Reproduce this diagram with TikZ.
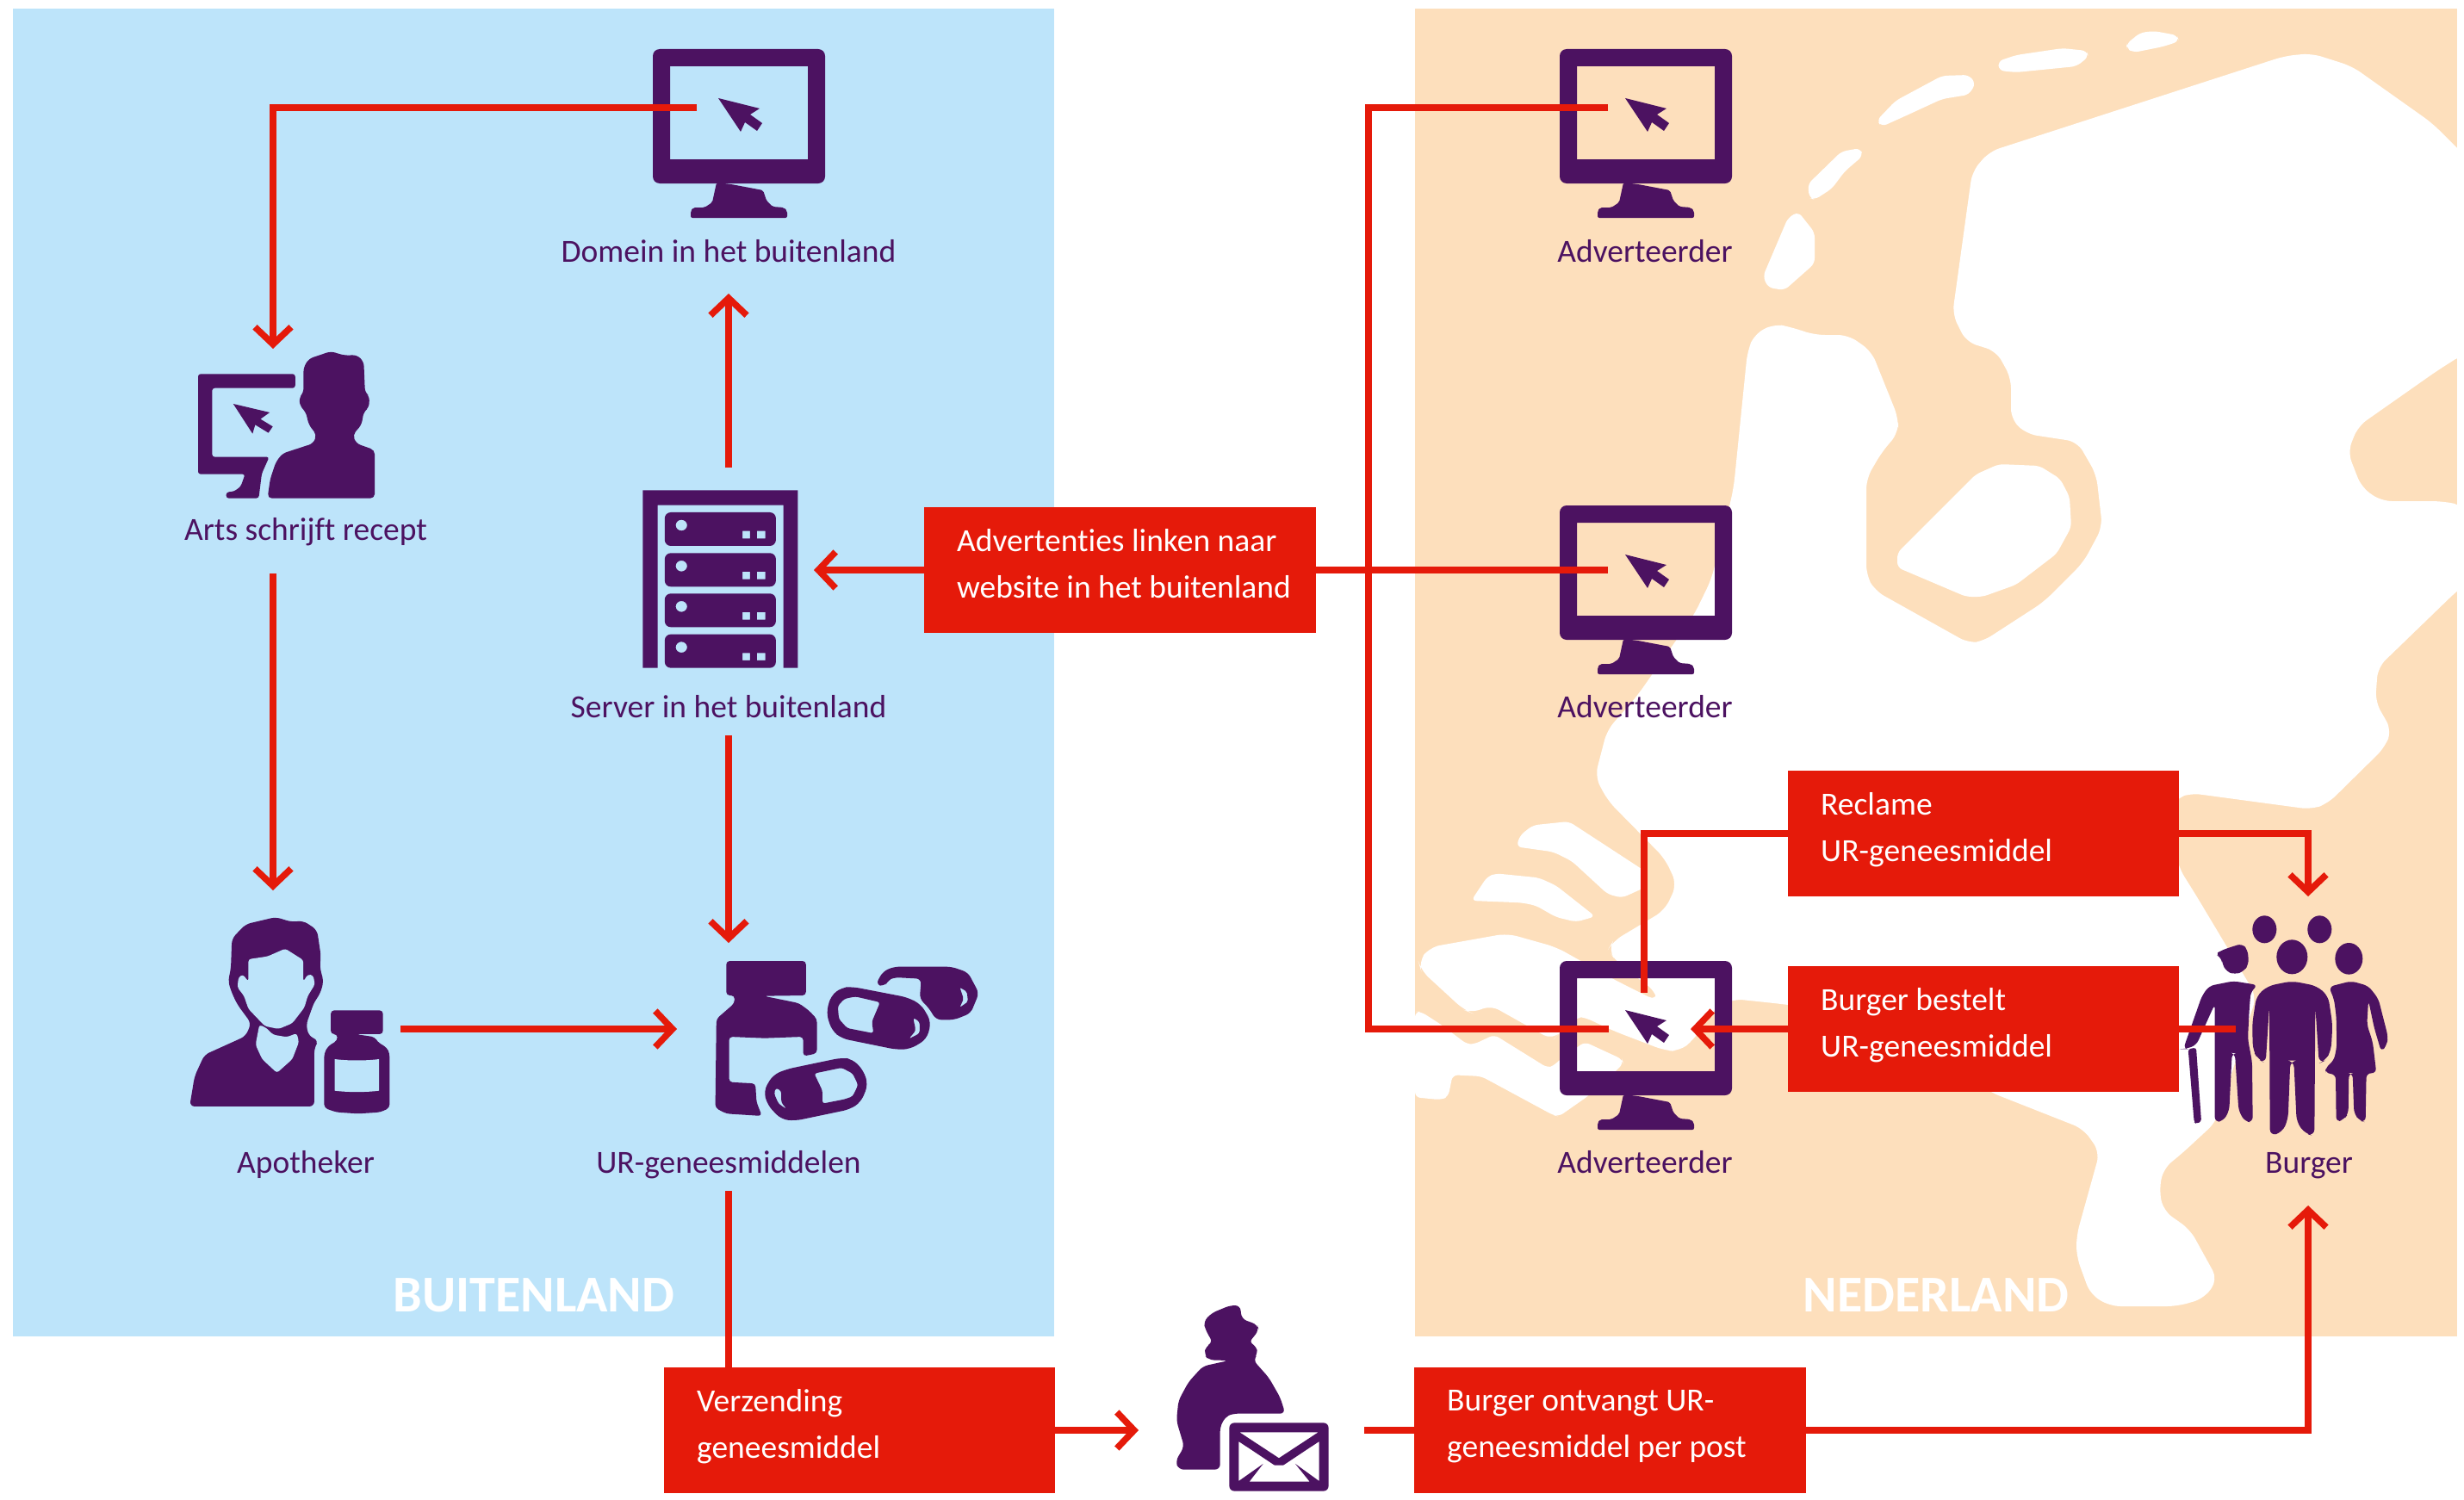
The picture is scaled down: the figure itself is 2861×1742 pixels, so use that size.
\documentclass[tikz,border=0pt]{standalone}
\usepackage{fontspec}
\setmainfont[Ligatures=NoCommon]{Carlito}
\usetikzlibrary{arrows.meta}
\definecolor{bgblue}{RGB}{189,228,250}
\definecolor{bgpeach}{RGB}{253,223,188}
\definecolor{iconpurple}{RGB}{76,18,97}
\definecolor{boxred}{RGB}{229,26,10}
\newcommand{\boxlines}[2]{\mbox{#1}\\\mbox{#2\rule[-16pt]{0pt}{16pt}}}
\tikzset{
  conn/.style={draw=boxred,line width=7.5pt,miter limit=10},
  arr/.style={conn,-{Straight Barb[length=20pt,width=42pt,line width=7.5pt]}},
  redbox/.style={fill=boxred,text=white,anchor=north west,minimum height=146pt,inner xsep=38pt,inner ysep=0pt,align=flush left,font=\fontsize{37.5}{54}\selectfont},
  lab/.style={text=iconpurple,anchor=base,inner sep=0pt,font=\fontsize{37.5}{46}\selectfont},
  region/.style={text=white,anchor=base,inner sep=0pt,font=\fontsize{60}{64}\selectfont\bfseries},
  ic/.style={fill=iconpurple,even odd rule},
  isl/.style={fill=white,rounded corners=6pt},
}
\newcommand{\monicon}[2]{%
  \begin{scope}[shift={(#1,#2)}]
    \fill[ic] [rounded corners=8pt] (0,0) rectangle (200,156) [sharp corners] (20,20) rectangle (180,128);
    \fill[ic,rounded corners=2pt] (74,155) -- (91,157) -- (128,164) -- (132,176) -- (139,183) -- (152,184) -- (156,188) -- (156,196) -- (44,196) -- (44,188) -- (47,184) -- (60,184) -- (69,178) -- cycle;
    \fill[ic] (76,57) -- (124,69) -- (113,76) -- (127,86) -- (121,95) -- (107,85) -- (102,96) -- cycle;
  \end{scope}}
\begin{document}
\begin{tikzpicture}[x=1pt,y=-1pt]
\useasboundingbox (0,0) rectangle (2861,1742);
\fill[white] (0,0) rectangle (2861,1742);
\fill[bgblue] (15,10) rectangle (1224,1552);
\fill[bgpeach] (1643,10) rectangle (2853,1552);
% map
\fill[white,rounded corners=12pt] (2861,180) -- (2824,143) -- (2731,77) -- (2684,62) -- (2653,65) -- (2310,176) -- (2290,199) -- (2267,365) -- (2283,397) -- (2318,408) -- (2335,439) -- (2335,487) -- (2353,504) -- (2412,513) -- (2434,551) -- (2441,612) -- (2419,653) -- (2373,699) -- (2302,745) -- (2286,747) -- (2177,686) -- (2167,668) -- (2167,556) -- (2185,525) -- (2204,503) -- (2204,485) -- (2173,408) -- (2146,389) -- (2107,389) -- (2080,380) -- (2060,376) -- (2037,388) -- (2029,408) -- (2013,566) -- (2006,597) -- (1987,673) -- (1967,714) -- (1901,808) -- (1866,848) -- (1852,902) -- (1867,930) -- (1933,997) -- (1947,1027) -- (1933,1057) -- (1873,1093) -- (1867,1103) -- (1877,1117) -- (1923,1152) -- (1925,1163) -- (1873,1137) -- (1807,1100) -- (1750,1084) -- (1660,1100) -- (1647,1117) -- (1650,1127) -- (1700,1173) -- (1710,1177) -- (1730,1167) -- (1803,1208) -- (1812,1198) -- (1832,1180) -- (1837,1180) -- (1873,1197) -- (1933,1220) -- (1950,1221) -- (1967,1207) -- (1990,1172) -- (2012,1160) -- (2060,1165) -- (2200,1182) -- (2310,1268) -- (2419,1311) -- (2438,1338) -- (2411,1435) -- (2411,1459) -- (2427,1503) -- (2450,1517) -- (2528,1517) -- (2559,1508) -- (2575,1486) -- (2543,1428) -- (2512,1406) -- (2507,1382) -- (2512,1357) -- (2533,1340) -- (2573,1303) -- (2620,1157) -- (2550,1040) -- (2530,1008) -- (2515,940) -- (2530,926) -- (2543,921) -- (2684,940) -- (2703,933) -- (2769,868) -- (2777,848) -- (2758,815) -- (2761,775) -- (2853,686) -- (2861,680) -- (2861,587) -- (2835,582) -- (2765,582) -- (2742,566) -- (2726,525) -- (2738,495) -- (2832,429) -- (2853,416) -- (2861,410) -- cycle;
\fill[isl] (2294,551) -- (2321,539) -- (2368,541) -- (2392,556) -- (2403,577) -- (2405,612) -- (2388,643) -- (2341,679) -- (2302,693) -- (2283,693) -- (2203,659) -- (2203,642) -- cycle;
\fill[isl] (2469,51) -- (2485,38) -- (2501,36) -- (2528,41) -- (2530,48) -- (2512,54) -- (2477,61) -- (2469,56) -- cycle;
\fill[isl] (2320,71) -- (2341,64) -- (2395,56) -- (2423,59) -- (2425,66) -- (2411,77) -- (2341,84) -- (2321,82) -- cycle;
\fill[isl] (2179,140) -- (2201,117) -- (2255,88) -- (2286,87) -- (2294,97) -- (2286,110) -- (2255,115) -- (2216,133) -- (2185,147) -- cycle;
\fill[isl] (2099,214) -- (2138,176) -- (2160,172) -- (2163,181) -- (2142,199) -- (2127,219) -- (2107,232) -- (2101,230) -- cycle;
\fill[isl] (2047,321) -- (2076,253) -- (2088,246) -- (2107,270) -- (2107,306) -- (2072,337) -- (2053,334) -- cycle;
\begin{scope}[shift={(1640,930)},x=0.3333pt,y=-0.3333pt]
  \fill[isl] (362,160) -- (375,120) -- (420,85) -- (545,72) -- (810,245) -- (810,302) -- (730,338) -- (680,325) -- (555,210) -- (490,178) -- cycle;
  \fill[isl] (205,348) -- (260,265) -- (290,253) -- (440,268) -- (500,295) -- (637,403) -- (570,422) -- (500,405) -- (430,365) -- (380,355) -- cycle;
  \fill[isl] (9,735) -- (30,735) -- (100,780) -- (190,848) -- (215,848) -- (285,815) -- (470,930) -- (490,925) -- (510,905) -- (600,840) -- (730,900) -- (735,915) -- (710,940) -- (610,1030) -- (510,1100) -- (490,1095) -- (240,960) -- (140,955) -- (125,1030) -- (100,1042) -- (9,1033) -- cycle;
\end{scope}
% monitors
\monicon{758}{57}
\monicon{1811}{57}
\monicon{1811}{587}
\monicon{1811}{1116}
% Arts
\begin{scope}[shift={(180,380)},x=0.5102pt,y=-0.3333pt]
  \fill[ic,rounded corners=3pt] (319,163) -- (98,163) -- (98,512) -- (205,512) -- (195,555) -- (180,572) -- (162,575) -- (162,596) -- (236,596) -- (243,510) -- (260,452) -- (130,452) -- (130,212) -- (319,212) -- cycle;
  \fill[ic] (178,267) -- (261,297) -- (240,320) -- (268,346) -- (258,368) -- (228,340) -- (222,371) -- cycle;
  \fill[ic,rounded corners=5pt] (256,596) -- (262,530) -- (275,470) -- (290,440) -- (360,405) -- (368,375) -- (350,340) -- (343,295) -- (330,275) -- (328,245) -- (338,228) -- (338,140) -- (350,110) -- (400,84) -- (430,98) -- (460,97) -- (475,120) -- (478,228) -- (488,240) -- (487,280) -- (475,295) -- (470,340) -- (450,375) -- (458,405) -- (500,428) -- (500,596) -- cycle;
\end{scope}
% Server
\begin{scope}[shift={(180,380)},x=0.5102pt,y=-0.3333pt]
  \fill[ic] (1110,568) -- (1463,568) -- (1463,1187) -- (1430,1187) -- (1430,620) -- (1144,620) -- (1144,1187) -- (1110,1187) -- cycle;
  \foreach \yy in {0,142,283,425}{
    \begin{scope}[shift={(0,\yy)}]
    \fill[ic] [rounded corners=7pt] (1160,645) rectangle (1413,762) [sharp corners] (1198,690) ellipse [x radius=13,y radius=19] (1337,710) rectangle (1354,736) (1370,710) rectangle (1389,736);
    \end{scope}}
\end{scope}
% Apotheker
\begin{scope}[shift={(180,1040)},x=0.6378pt,y=-0.3333pt]
  \fill[ic,rounded corners=6pt] (63,735) -- (72,630) -- (90,555) -- (165,490) -- (175,445) -- (150,380) -- (140,340) -- (133,300) -- (138,255) -- (140,150) -- (165,100) -- (220,75) -- (248,92) -- (270,88) -- (295,120) -- (302,210) -- (300,250) -- (307,300) -- (300,345) -- (290,370) -- (275,450) -- (280,490) -- (298,505) -- (290,530) -- (290,735) -- cycle;
  \fill[bgblue,rounded corners=3pt] (170,222) -- (205,212) -- (237,185) -- (270,225) -- (270,300) -- (278,275) -- (288,278) -- (291,310) -- (278,350) -- (272,390) -- (250,445) -- (225,465) -- (200,455) -- (170,395) -- (162,350) -- (150,320) -- (152,285) -- (160,275) -- (170,300) -- cycle;
  \fill[bgblue,rounded corners=3pt] (190,450) -- (203,462) -- (215,485) -- (240,493) -- (258,480) -- (262,510) -- (250,570) -- (222,618) -- (195,570) -- (183,520) -- cycle;
  \fill[ic,rounded corners=4pt] (320,400) -- (415,400) -- (415,483) -- (365,483) -- (400,493) -- (405,510) -- (422,530) -- (427,550) -- (427,740) -- (410,755) -- (370,760) -- (330,755) -- (308,740) -- (308,550) -- (315,525) -- (332,505) -- (332,483) -- (320,483) -- cycle;
  \fill[bgblue,rounded corners=0pt] (327,570) .. controls (350,576) and (385,576) .. (408,570) -- (408,680) .. controls (385,686) and (350,686) .. (327,680) -- cycle;
\end{scope}
% UR-geneesmiddelen
\begin{scope}[shift={(180,1040)},x=0.6378pt,y=-0.3333pt]
  \fill[ic,rounded corners=4pt] (1040,228) -- (1185,228) -- (1185,348) -- (1108,350) -- (1172,375) -- (1190,400) -- (1205,430) -- (1205,550) -- (1180,560) -- (1180,492) -- (1110,497) -- (1045,492) -- (1045,650) -- (1093,655) -- (1095,720) -- (1105,768) -- (1040,760) -- (1020,740) -- (1022,430) -- (1040,400) -- (1055,375) -- (1055,348) -- (1040,348) -- cycle;
  \fill[ic] [rounded corners=8pt] (1150,605) -- (1250,565) -- (1270,570) -- (1290,610) -- (1298,660) -- (1285,720) -- (1265,745) -- (1165,785) -- (1140,780) -- (1115,730) -- (1108,680) -- (1125,625) -- cycle
    [rounded corners=3pt] (1200,620) -- (1250,600) -- (1270,620) -- (1280,660) -- (1270,700) -- (1255,710) -- (1215,725) -- (1215,680) -- cycle
    (1130,670) -- (1140,680) -- (1140,720) -- (1150,745) -- (1135,725) -- (1127,690) -- cycle;
  \fill[ic] [rounded corners=8pt] (1270,318) -- (1370,355) -- (1395,380) -- (1413,440) -- (1405,500) -- (1375,535) -- (1350,537) -- (1250,498) -- (1232,470) -- (1222,410) -- (1230,350) -- (1250,320) -- cycle
    [rounded corners=3pt] (1275,352) -- (1320,372) -- (1305,440) -- (1308,480) -- (1260,462) -- (1245,430) -- (1243,385) -- (1255,360) -- cycle
    (1380,425) -- (1392,440) -- (1392,480) -- (1372,500) -- (1385,470) -- cycle;
  \fill[ic] [rounded corners=6pt] (1312,310) -- (1325,265) -- (1345,248) -- (1450,248) -- (1480,268) -- (1500,340) -- (1485,410) -- (1455,433) -- (1422,433) -- (1408,390) -- (1392,360) -- (1395,290) -- (1345,285) -- (1335,295) -- (1328,317) -- cycle
    [rounded corners=2pt] (1465,320) -- (1478,335) -- (1480,370) -- (1465,390) -- (1472,360) -- cycle;
\end{scope}
% Bag
\begin{scope}[shift={(1300,1480)},x=0.3333pt,y=-0.3333pt]
  \fill[ic,rounded corners=6pt] (420,108) -- (385,108) -- (320,135) -- (292,165) -- (300,195) -- (325,238) -- (300,250) -- (295,280) -- (310,298) -- (380,300) -- (290,320) -- (240,375) -- (205,440) -- (198,510) -- (225,600) -- (195,650) -- (205,680) -- (350,680) -- (350,530) -- (370,495) -- (395,485) -- (577,485) -- (560,430) -- (520,360) -- (465,298) -- (480,280) -- (478,250) -- (450,238) -- (485,195) -- (480,175) -- (425,155) -- cycle;
  \fill[ic] [rounded corners=6pt] (382,517) rectangle (728,755) [sharp corners]
    (418,550) -- (692,550) -- (555,640) -- cycle
    (415,582) -- (540,665) -- (570,665) -- (695,582) -- (695,720) -- (612,660) -- (662,722) -- (452,722) -- (500,660) -- (415,720) -- cycle;
\end{scope}
% Burger
\begin{scope}[shift={(2500,1040)},x=0.3333pt,y=-0.3333pt]
  \fill[ic] (388,118) ellipse [x radius=42,y radius=48];
  \fill[ic] (580,118) ellipse [x radius=42,y radius=48];
  \fill[ic] (484,214) ellipse [x radius=54,y radius=60];
  \fill[ic] (682,220) ellipse [x radius=48,y radius=55];
  \fill[ic,rounded corners=6pt] (215,205) -- (240,190) -- (310,167) -- (330,190) -- (333,240) -- (315,265) -- (285,275) -- (255,265) -- (240,235) -- (238,215) -- cycle;
  \fill[ic,rounded corners=6pt] (365,312) -- (340,335) -- (335,400) -- (330,500) -- (345,580) -- (347,790) -- (320,788) -- (298,750) -- (285,550) -- (275,548) -- (265,750) -- (245,785) -- (215,790) -- (215,378) -- (150,522) -- (110,535) -- (105,535) -- (170,350) -- (195,315) -- (280,298) -- cycle;
  \fill[ic,rounded corners=3pt] (122,535) -- (150,530) -- (168,788) -- (150,795) -- (143,790) -- cycle;
  \fill[ic,rounded corners=8pt] (400,315) -- (484,298) -- (570,315) -- (610,350) -- (625,450) -- (620,540) -- (600,575) -- (578,585) -- (565,385) -- (562,838) -- (530,830) -- (500,790) -- (490,575) -- (478,575) -- (470,780) -- (450,825) -- (407,838) -- (405,385) -- (392,585) -- (365,570) -- (348,540) -- (345,450) -- (360,350) -- cycle;
  \fill[ic,rounded corners=6pt] (612,318) -- (690,298) -- (750,315) -- (785,360) -- (800,420) -- (818,490) -- (815,520) -- (795,545) -- (770,460) -- (750,365) -- (745,450) -- (765,510) -- (778,620) -- (743,618) -- (740,790) -- (720,785) -- (700,760) -- (695,618) -- (682,618) -- (680,760) -- (665,780) -- (638,790) -- (636,622) -- (600,620) -- (600,600) -- (630,575) -- (640,525) -- (638,420) -- (630,360) -- cycle;
\end{scope}
% named end points
\coordinate (domStart) at (809,125);
\coordinate (domBend) at (317,125);
\coordinate (artsIn) at (317,405);
\coordinate (artsOut) at (317,666);
\coordinate (apoIn) at (317,1034);
\coordinate (apoOut) at (465,1195);
\coordinate (urIn) at (786,1195);
\coordinate (srvDown) at (846,854);
\coordinate (urTop) at (846,1095);
\coordinate (srvUp) at (846,543);
\coordinate (domIn) at (846,341);
\coordinate (srvIn) at (945,662);
\coordinate (advA) at (1867,125);
\coordinate (advB) at (1867,662);
\coordinate (advC) at (1868,1195);
\coordinate (busTop) at (1589,125);
\coordinate (busBot) at (1589,1195);
\coordinate (advCtop) at (1909,1153);
\coordinate (advCbend) at (1909,968);
\coordinate (advCin) at (1963,1195);
\coordinate (burgTopBend) at (2680,968);
\coordinate (burgTop) at (2680,1041);
\coordinate (burgMan) at (2596,1195);
\coordinate (urOut) at (846,1383);
\coordinate (bagIn) at (1322,1661);
\coordinate (bagOut) at (1584,1661);
\coordinate (burgBend) at (2680,1661);
\coordinate (burgIn) at (2680,1400);
% connectors
\draw[arr] (domStart) -- (domBend) -- (artsIn);
\draw[arr] (artsOut) -- (apoIn);
\draw[arr] (apoOut) -- (urIn);
\draw[arr] (srvDown) -- (urTop);
\draw[arr] (srvUp) -- (domIn);
\draw[conn] (advA) -- (busTop) -- (busBot) -- (advC);
% boxes
\node[redbox,minimum width=454.5pt,text width=378.5pt] (boxLink) at (1073,589) {\boxlines{Advertenties linken naar}{website in het buitenland}};
\node[redbox,minimum width=454pt,text width=378pt] (boxReclame) at (2076,895) {\boxlines{Reclame}{UR-geneesmiddel}};
\node[redbox,minimum width=454pt,text width=378pt] (boxBestelt) at (2076,1122) {\boxlines{Burger bestelt}{UR-geneesmiddel}};
\node[redbox,minimum width=454pt,text width=378pt] (boxVerz) at (771,1588) {\boxlines{Verzending}{geneesmiddel}};
\node[redbox,minimum width=455pt,text width=379pt] (boxPost) at (1642,1588) {\boxlines{Burger ontvangt UR-}{geneesmiddel per post}};
% connectors from boxes
\draw[arr] (boxLink.west |- srvIn) -- (srvIn);
\draw[conn] (boxLink.east |- advB) -- (advB);
\draw[conn] (boxReclame.west |- advCbend) -- (advCbend) -- (advCtop);
\draw[arr] (boxReclame.east |- burgTopBend) -- (burgTopBend) -- (burgTop);
\draw[arr] (boxBestelt.west |- advCin) -- (advCin);
\draw[conn] (boxBestelt.east |- burgMan) -- (burgMan);
\draw[conn] (urOut) -- (urOut |- boxVerz.north);
\draw[arr] (boxVerz.east |- bagIn) -- (bagIn);
\draw[conn] (bagOut) -- (boxPost.west |- bagOut);
\draw[arr] (boxPost.east |- burgBend) -- (burgBend) -- (burgIn);
% labels
\node[lab] (lDom) at (846,304) {Domein in het buitenland};
\node[lab] (lArts) at (355,627) {Arts schrijft recept};
\node[lab] (lSrv) at (846,833) {Server in het buitenland};
\node[lab] (lApo) at (355,1362) {Apotheker};
\node[lab] (lUr) at (846,1362) {UR-geneesmiddelen};
\node[lab] (lA1) at (1910,304) {Adverteerder};
\node[lab] (lA2) at (1910,833) {Adverteerder};
\node[lab] (lA3) at (1910,1362) {Adverteerder};
\node[lab] (lBurg) at (2681,1362) {Burger};
\node[region] (rBui) at (620,1523) {BUITENLAND};
\node[region] (rNed) at (2248,1523) {NEDERLAND};
\end{tikzpicture}
\end{document}
